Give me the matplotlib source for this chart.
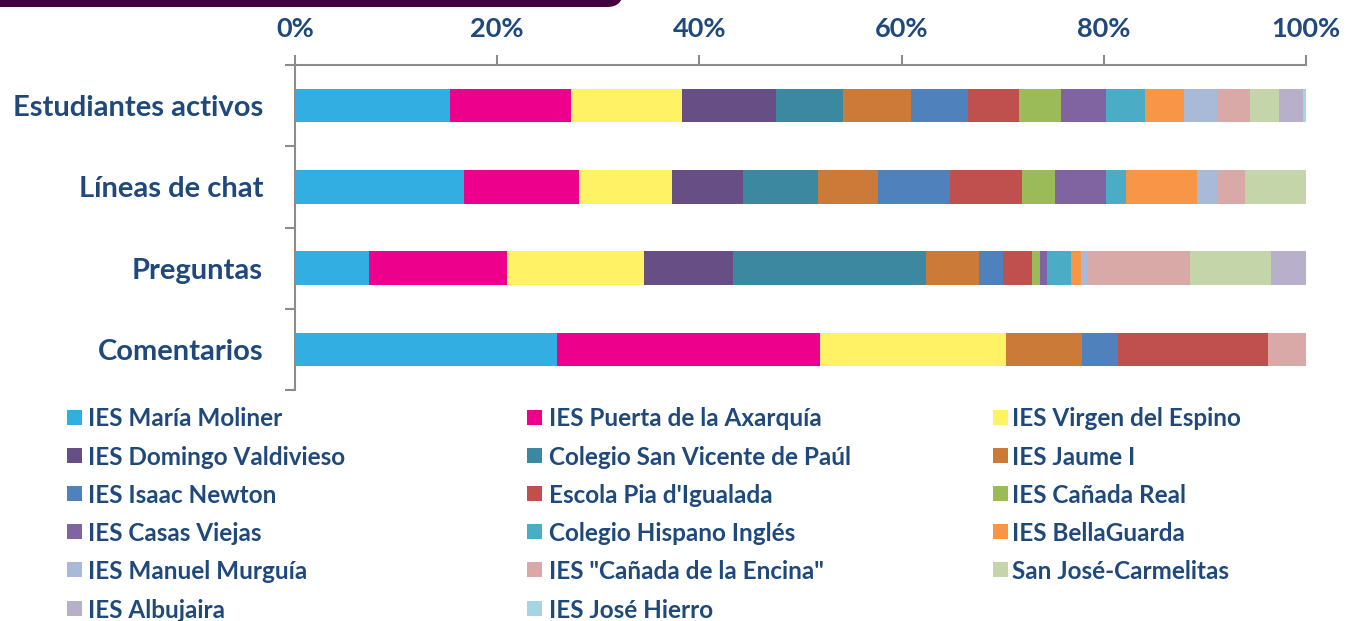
import matplotlib
matplotlib.use("Agg")
import matplotlib.pyplot as plt
import numpy as np
from matplotlib.patches import FancyBboxPatch, Rectangle
from matplotlib.ticker import FixedLocator, NullFormatter
from matplotlib.transforms import IdentityTransform

CATEGORIES = ["Estudiantes activos", "Líneas de chat", "Preguntas", "Comentarios"]
SCHOOLS = [
    "IES María Moliner", "IES Puerta de la Axarquía", "IES Virgen del Espino",
    "IES Domingo Valdivieso", "Colegio San Vicente de Paúl", "IES Jaume I",
    "IES Isaac Newton", "Escola Pia d'Igualada", "IES Cañada Real",
    "IES Casas Viejas", "Colegio Hispano Inglés", "IES BellaGuarda",
    "IES Manuel Murguía", "IES \"Cañada de la Encina\"", "San José-Carmelitas",
    "IES Albujaira", "IES José Hierro",
]
COLORS = [
    "#33AEE3", "#EC008C", "#FFF264", "#674F86", "#3B88A0", "#CC7A38",
    "#4F81BD", "#C0504D", "#9BBB59", "#8064A2", "#4BACC6", "#F79646",
    "#A9B9D8", "#D9A9A8", "#C5D5AA", "#B8AFCA", "#A5D5E2",
]
# share (%) of each school, per category
ESTUDIANTES = [15.3, 12.0, 11.0, 9.3, 6.6, 6.7, 5.7, 5.0, 4.2, 4.4, 3.9, 3.8, 3.3, 3.3, 2.8, 2.4, 0.3]
LINEAS = [16.7, 11.4, 9.2, 7.0, 7.4, 6.0, 7.1, 7.1, 3.3, 5.0, 2.0, 7.0, 2.0, 2.8, 6.0, 0.0, 0.0]
PREGUNTAS = [7.3, 13.7, 13.5, 8.8, 19.1, 5.3, 2.3, 2.9, 0.8, 0.7, 2.4, 0.9, 0.7, 10.1, 8.0, 3.5, 0.0]
COMENTARIOS = [25.9, 26.0, 18.4, 0.0, 0.0, 7.5, 3.6, 14.8, 0.0, 0.0, 0.0, 0.0, 0.0, 3.8, 0.0, 0.0, 0.0]

TXT = "#1F497D"
SPINE = "#8C8C8C"
FONT = "Lato"

W, H = 1359, 621
fig = plt.figure(figsize=(W / 100, H / 100), dpi=100)
fig.patch.set_facecolor("white")
ax = fig.add_axes([295 / W, 1 - 390 / H, (1306 - 295) / W, (390 - 65) / H])

vals = np.array([ESTUDIANTES, LINEAS, PREGUNTAS, COMENTARIOS], dtype=float)
pct = vals / vals.sum(axis=1, keepdims=True) * 100
y = np.arange(len(CATEGORIES))
left = np.zeros(len(CATEGORIES))
for j, (name, col) in enumerate(zip(SCHOOLS, COLORS)):
    ax.barh(y, pct[:, j], left=left, height=0.41, color=col, edgecolor="none", label=name)
    left += pct[:, j]

ax.set_xlim(0, 100)
ax.set_ylim(3.5, -0.5)

# x axis on top
ax.xaxis.tick_top()
ax.set_xticks(np.arange(0, 101, 20))
ax.set_xticklabels([f"{v}%" for v in range(0, 101, 20)])
ax.tick_params(axis="x", which="major", direction="out", length=7.5, width=1.5,
               color=SPINE, pad=10, labelsize=19.5, labelcolor=TXT)

# y axis: ticks at category boundaries, labels at centers
ax.yaxis.set_major_locator(FixedLocator(np.arange(-0.5, len(CATEGORIES), 1.0)))
ax.yaxis.set_major_formatter(NullFormatter())
ax.yaxis.set_minor_locator(FixedLocator(y))
ax.set_yticklabels(CATEGORIES, minor=True)
ax.tick_params(axis="y", which="major", direction="out", length=7.5, width=1.5, color=SPINE)
ax.tick_params(axis="y", which="minor", length=0, pad=23, labelsize=21, labelcolor=TXT)

for lab in ax.get_xticklabels() + ax.get_yticklabels(minor=True):
    lab.set_fontfamily(FONT)
    lab.set_fontweight("bold")

for s in ["right", "bottom"]:
    ax.spines[s].set_visible(False)
for s in ["left", "top"]:
    ax.spines[s].set_color(SPINE)
    ax.spines[s].set_linewidth(1.5)

# legend: equal-width columns, row-major order
col_mark = [67, 527, 993]
col_text = [88, 549, 1012]
row_y0, row_dy = 417, 38.2
for i, (name, col) in enumerate(zip(SCHOOLS, COLORS)):
    r, c = divmod(i, 3)
    yc = row_y0 + r * row_dy
    fig.add_artist(Rectangle((col_mark[c] / W, 1 - (yc + 7.5) / H), 15 / W, 15 / H,
                             transform=fig.transFigure, facecolor=col, edgecolor="none"))
    fig.text(col_text[c] / W, 1 - yc / H, name, ha="left", va="center_baseline",
             fontsize=17.5, fontweight="bold", color=TXT, fontfamily=FONT)

# dark banner cut off at the top
fig.add_artist(FancyBboxPatch((-40, H - 7), 623 + 40, 60,
                              boxstyle="round,pad=0,rounding_size=16",
                              transform=IdentityTransform(), facecolor="#42003F",
                              edgecolor="none"))

fig.savefig("out.png", dpi=100)
